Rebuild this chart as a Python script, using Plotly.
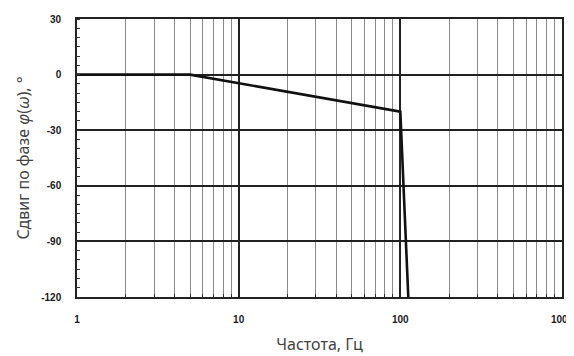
import plotly.graph_objects as go

freq_hz = [1, 5, 100, 112]
phase_deg = [0, 0, -20, -120]

x_tick_vals = [1, 10, 100, 1000]
x_tick_text = ["1", "10", "100", "1000"]
x_minor_vals = [m * d for d in (1, 10, 100) for m in range(2, 10)]
y_tick_vals = [30, 0, -30, -60, -90, -120]
y_tick_text = ["30", "0", "-30", "-60", "-90", "-120"]

fig = go.Figure()
fig.add_trace(go.Scatter(
    x=freq_hz, y=phase_deg, mode="lines",
    line=dict(color="#111111", width=2.6),
    showlegend=False, hoverinfo="skip"))

tick_font = dict(family="Liberation Sans, Arial", size=10, color="#1a1a1a", weight="bold")
title_font = dict(family="Noto Sans, Liberation Sans", size=16, color="#444444")

fig.update_layout(
    width=574, height=356,
    margin=dict(l=69, r=20, t=11, b=67),
    paper_bgcolor="white", plot_bgcolor="white",
    xaxis=dict(
        type="log", range=[0, 3], automargin=False,
        tickmode="array", tickvals=x_tick_vals, ticktext=x_tick_text,
        tickfont=tick_font, ticks="", ticklabelstandoff=12,
        showgrid=True, gridcolor="#222222", gridwidth=1.6,
        showline=True, linecolor="#222222", linewidth=1.6, mirror=True,
        zeroline=False,
        minor=dict(tickmode="array", tickvals=x_minor_vals,
                   showgrid=True, gridcolor="#8a8a8a", gridwidth=1,
                   ticks="inside", ticklen=3, tickcolor="#333333"),
        title=dict(text="Частота, Гц", standoff=15, font=title_font),
    ),
    yaxis=dict(
        range=[-120, 30], automargin=False,
        tickmode="array", tickvals=y_tick_vals, ticktext=y_tick_text,
        tickfont=tick_font, ticks="", ticklabelstandoff=12,
        showgrid=True, gridcolor="#222222", gridwidth=1.6,
        showline=True, linecolor="#222222", linewidth=1.6, mirror=True,
        zeroline=False,
        minor=dict(dtick=5, ticks="inside", ticklen=3, tickcolor="#333333", showgrid=False),
        title=dict(text="Сдвиг по фазе <i>φ</i>(<i>ω</i>), °", standoff=8, font=title_font),
    ),
)

fig.write_html("out.html")
